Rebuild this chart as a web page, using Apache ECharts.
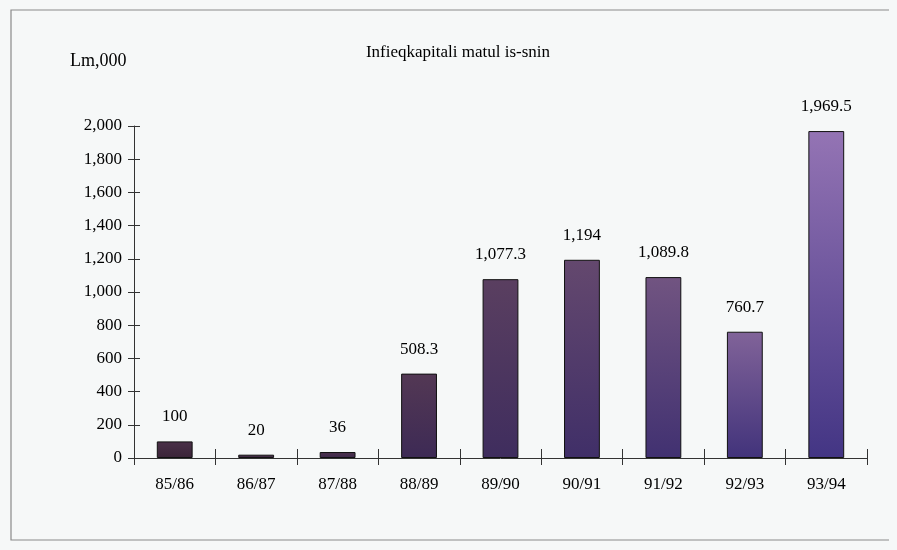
<!DOCTYPE html>
<html><head><meta charset="utf-8">
<script src="https://cdn.jsdelivr.net/npm/echarts@6/dist/echarts.min.js"></script>
<style>html,body{margin:0;padding:0;background:#f6f8f8;}#c{width:897px;height:550px;}</style>
</head><body><div id="c"></div>
<script>
var categories = ['85/86','86/87','87/88','88/89','89/90','90/91','91/92','92/93','93/94'];
var values = [100, 20, 36, 508.3, 1077.3, 1194, 1089.8, 760.7, 1969.5];
var yTicks = [0,200,400,600,800,1000,1200,1400,1600,1800,2000];
var titleText = 'Infieqkapitali matul is-snin';
var unitText = 'Lm,000';

var FONT = 'Liberation Serif';
function mix(a, b, t) {
  var pa = [parseInt(a.substr(1,2),16), parseInt(a.substr(3,2),16), parseInt(a.substr(5,2),16)];
  var pb = [parseInt(b.substr(1,2),16), parseInt(b.substr(3,2),16), parseInt(b.substr(5,2),16)];
  return 'rgb(' + pa.map(function(v,i){return Math.round(v + (pb[i]-v)*t);}).join(',') + ')';
}
function fmt(v){ return v.toLocaleString('en-US',{maximumFractionDigits:1}); }

var chart = echarts.init(document.getElementById('c'));
chart.setOption({
  backgroundColor: '#f6f8f8',
  animation: false,
  title: {
    text: titleText, left: 453, top: 39, textAlign: 'center',
    textStyle: {fontFamily: FONT, fontSize: 17, fontWeight: 'normal', color: '#000'}
  },
  graphic: [
    {type: 'rect', shape: {x: 11, y: 10, width: 879, height: 530}, style: {fill: 'none', stroke: '#8a8a8a', lineWidth: 1.2}, silent: true},
    {type: 'rect', shape: {x: 889, y: 9, width: 3, height: 533}, style: {fill: '#f6f8f8'}, silent: true},
    {type: 'text', left: 70, top: 52, style: {text: unitText, fontFamily: FONT, fontSize: 18, fill: '#000'}}
  ],
  grid: {left: 134, right: 30, top: 126, bottom: 92},
  xAxis: [{
    type: 'category', data: categories,
    axisLine: {lineStyle: {color: '#333', width: 1}},
    axisTick: {show: true, length: 7, lineStyle: {color: '#333'}},
    axisLabel: {fontFamily: FONT, fontSize: 17, color: '#000', margin: 18}
  }, {
    type: 'category', data: categories, position: 'bottom',
    axisLine: {show: false},
    axisTick: {show: true, inside: true, length: 9, lineStyle: {color: '#333'}},
    axisLabel: {show: false}
  }],
  yAxis: [{
    type: 'value', min: 0, max: 2000, interval: 200,
    axisLine: {show: true, lineStyle: {color: '#333'}},
    axisTick: {show: true, length: 6, lineStyle: {color: '#333'}},
    splitLine: {show: false},
    axisLabel: {fontFamily: FONT, fontSize: 17, color: '#000', margin: 12,
      formatter: function(v){ return yTicks.indexOf(v) >= 0 ? fmt(v) : ''; }}
  }, {
    type: 'value', min: 0, max: 2000, interval: 200, position: 'left',
    axisLine: {show: false},
    axisTick: {show: true, inside: true, length: 6, lineStyle: {color: '#333'}},
    splitLine: {show: false}, axisLabel: {show: false}
  }],
  series: [{
    type: 'bar', data: values, barWidth: '44%',
    itemStyle: {
      borderColor: '#111', borderWidth: 1,
      color: function(p){
        var t = p.dataIndex / (categories.length - 1);
        return new echarts.graphic.LinearGradient(0,0,0,1,[
          {offset: 0, color: mix('#4a3048', '#9474b4', Math.pow(t, 2.2))},
          {offset: 1, color: mix('#3a2438', '#433584', t)}
        ]);
      }
    },
    label: {show: true, position: 'top', distance: 16, fontFamily: FONT, fontSize: 17, color: '#000',
      formatter: function(p){ return fmt(p.value); }}
  }]
});
</script></body></html>
